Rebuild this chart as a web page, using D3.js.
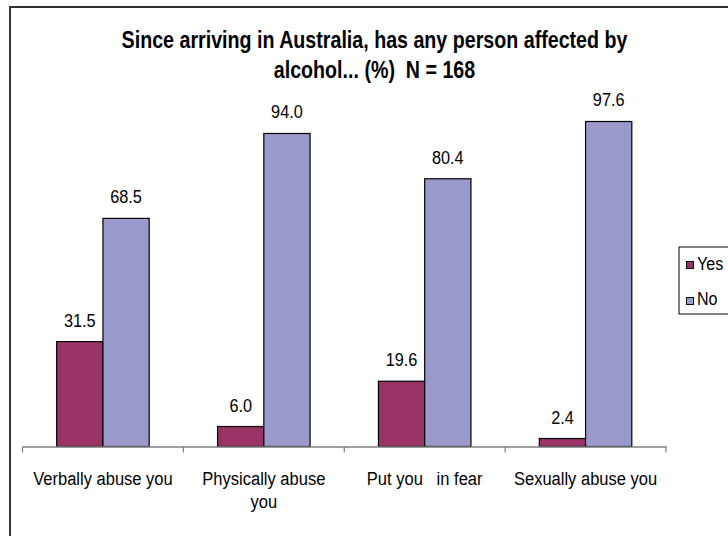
<!DOCTYPE html>
<html>
<head>
<meta charset="utf-8">
<script src="https://cdn.jsdelivr.net/npm/d3@7"></script>
<style>
  html, body { margin: 0; padding: 0; background: #fff; }
  svg { display: block; }
  text { font-family: "Liberation Sans", Arial, sans-serif; fill: #000; }
</style>
</head>
<body>
<svg id="chart" width="728" height="536"></svg>
<script>
// Survey responses, percent of respondents (N = 168)
const categories = ["Verbally abuse you", "Physically abuse you", "Put you   in fear", "Sexually abuse you"];
const categoryLines = [["Verbally abuse you"], ["Physically abuse", "you"], ["Put you   in fear"], ["Sexually abuse you"]];
const seriesNames = ["Yes", "No"];
const yesValues = [31.5, 6.0, 19.6, 2.4];
const noValues = [68.5, 94.0, 80.4, 97.6];
const colors = ["#993366", "#9999CC"];
const titleLines = ["Since arriving in Australia, has any person affected by", "alcohol... (%)  N = 168"];

const svg = d3.select("#chart");
const NARROW = 0.87; // condensed lettering

// draws a horizontally condensed text anchored at (x, y)
function label(parent, x, y, str, size, opts = {}) {
  return parent.append("text")
    .attr("transform", `translate(${x},${y}) scale(${opts.sx || NARROW},1)`)
    .attr("text-anchor", opts.anchor || "middle")
    .attr("font-size", size)
    .attr("font-weight", opts.weight || "normal")
    .attr("xml:space", "preserve")
    .style("white-space", "pre")
    .text(str);
}

// outer chart frame (runs off the right and bottom edges)
svg.append("path")
  .attr("d", "M10,740 V7 H740")
  .attr("fill", "none")
  .attr("stroke", "#333")
  .attr("stroke-width", 2);

// title
titleLines.forEach((t, i) => label(svg, 374.5, 48 + i * 30, t, 23, { weight: "bold", sx: 0.855 }));

const x0 = 22.5, x1 = 666, yBase = 446.5, yTop = 113.5;
const x = d3.scaleBand().domain(categories).range([x0, x1]).paddingInner(0).paddingOuter(0);
const y = d3.scaleLinear().domain([0, 100]).range([yBase, yTop]);
const groupW = x.bandwidth() * 0.575;
const xs = d3.scaleBand().domain(seriesNames).range([0, groupW]);

const rows = categories.map((c, i) => ({ cat: c, vals: [yesValues[i], noValues[i]] }));

const groups = svg.append("g").selectAll("g")
  .data(rows).join("g")
  .attr("transform", d => `translate(${x(d.cat) + (x.bandwidth() - groupW) / 2},0)`);

groups.selectAll("rect")
  .data(d => d.vals.map((v, j) => ({ v, s: seriesNames[j], j })))
  .join("rect")
  .attr("x", d => xs(d.s))
  .attr("y", d => y(d.v))
  .attr("width", xs.bandwidth())
  .attr("height", d => yBase - y(d.v))
  .attr("fill", d => colors[d.j])
  .attr("stroke", "#000")
  .attr("stroke-width", 1.2);

groups.each(function (d) {
  const g = d3.select(this);
  d.vals.forEach((v, j) => {
    label(g, xs(seriesNames[j]) + xs.bandwidth() / 2, y(v) - 15, v.toFixed(1), 18.5, { sx: 0.88 });
  });
});

// category axis
const axis = svg.append("g")
  .attr("transform", `translate(0,${yBase})`)
  .call(d3.axisBottom(x).tickSize(0).tickFormat(""));
axis.select(".domain").attr("stroke", "#808080").attr("stroke-width", 1.5);
const tickPos = categories.map(c => x(c)).concat([x1]);
axis.selectAll("line.sep")
  .data(tickPos).join("line")
  .attr("class", "sep")
  .attr("x1", d => d).attr("x2", d => d)
  .attr("y1", 0).attr("y2", 6)
  .attr("stroke", "#808080").attr("stroke-width", 1.2);

categories.forEach((c, i) => {
  categoryLines[i].forEach((line, k) => {
    label(svg, x(c) + x.bandwidth() / 2, 485 + k * 22.5, line, 19);
  });
});

// legend
const lg = svg.append("g").attr("transform", "translate(679,247)");
lg.append("rect").attr("x", 0).attr("y", 0).attr("width", 80).attr("height", 67)
  .attr("fill", "#fff").attr("stroke", "#000").attr("stroke-width", 1);
seriesNames.forEach((s, i) => {
  lg.append("rect").attr("x", 7.5).attr("y", 14.5 + i * 36).attr("width", 7).attr("height", 7)
    .attr("fill", colors[i]).attr("stroke", "#000").attr("stroke-width", 1);
  label(lg, 18, 23 + i * 34.5, s, 18.5, { anchor: "start" });
});
</script>
</body>
</html>
